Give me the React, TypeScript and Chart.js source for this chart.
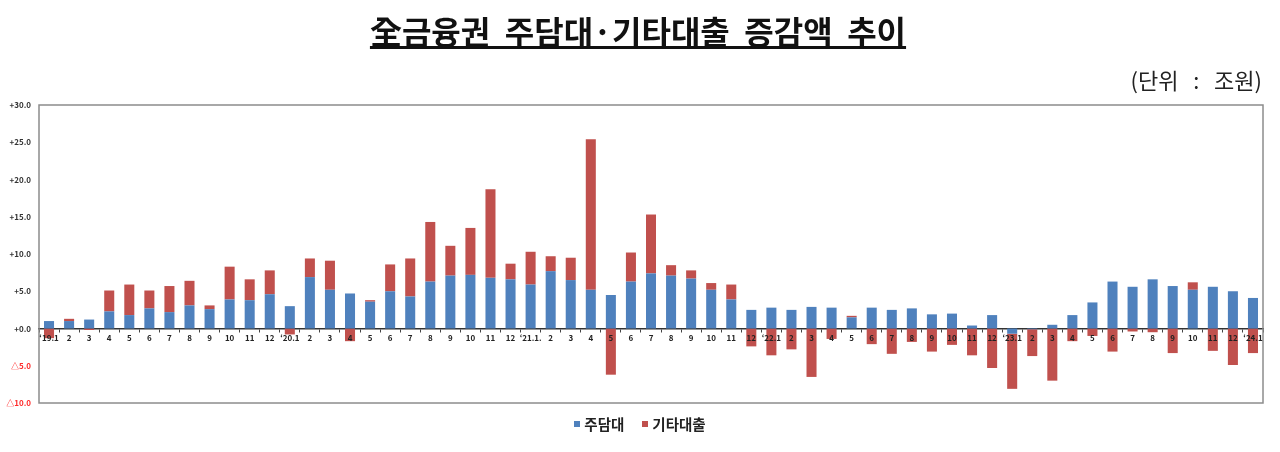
import React, { useEffect, useRef } from 'react';
import { Chart, registerables } from 'chart.js';
Chart.register(...registerables);

const FONT = '"Noto Sans CJK KR", "Noto Sans", sans-serif';

// months from '19.1 to '24.1
const monthLabels: string[] = [
  '‘19.1', '2', '3', '4', '5', '6', '7', '8', '9', '10', '11', '12',
  '‘20.1', '2', '3', '4', '5', '6', '7', '8', '9', '10', '11', '12',
  '‘21.1.', '2', '3', '4', '5', '6', '7', '8', '9', '10', '11', '12',
  '‘22.1', '2', '3', '4', '5', '6', '7', '8', '9', '10', '11', '12',
  '‘23.1', '2', '3', '4', '5', '6', '7', '8', '9', '10', '11', '12',
  '‘24.1',
];

// 주담대 (조원)
const mortgageValues: number[] = [
  1.0, 1.0, 1.2, 2.3, 1.8, 2.7, 2.2, 3.1, 2.6, 3.9, 3.8, 4.6,
  3.0, 6.9, 5.2, 4.7, 3.6, 5.0, 4.3, 6.3, 7.1, 7.2, 6.8, 6.6,
  5.9, 7.7, 6.5, 5.2, 4.5, 6.3, 7.4, 7.1, 6.7, 5.2, 3.9, 2.5,
  2.8, 2.5, 2.9, 2.8, 1.5, 2.8, 2.5, 2.7, 1.9, 2.0, 0.4, 1.8,
  -0.7, -0.1, 0.5, 1.8, 3.5, 6.3, 5.6, 6.6, 5.7, 5.2, 5.6, 5.0,
  4.1,
];

// 기타대출 (조원)
const otherLoanValues: number[] = [
  -1.3, 0.3, -0.2, 2.8, 4.1, 2.4, 3.5, 3.3, 0.5, 4.4, 2.8, 3.2,
  -0.8, 2.5, 3.9, -1.7, 0.2, 3.6, 5.1, 8.0, 4.0, 6.3, 11.9, 2.1,
  4.4, 2.0, 3.0, 20.2, -6.2, 3.9, 7.9, 1.4, 1.1, 0.9, 2.0, -2.4,
  -3.6, -2.8, -6.5, -1.4, 0.2, -2.1, -3.4, -1.8, -3.1, -2.2, -3.6, -5.3,
  -7.4, -3.6, -7.0, -1.7, -1.0, -3.1, -0.4, -0.5, -3.3, 1.0, -3.0, -4.9,
  -3.3,
];

const BLUE = '#4f81bd';
const RED = '#c0504d';

const framePlugin = {
  id: 'frame',
  beforeDatasetsDraw(chart: Chart) {
    const { ctx, chartArea } = chart;
    ctx.save();
    ctx.strokeStyle = '#8c8c8c';
    ctx.lineWidth = 1.5;
    ctx.strokeRect(chartArea.left, chartArea.top, chartArea.right - chartArea.left, chartArea.bottom - chartArea.top);
    ctx.restore();
  },
};

function fmtTick(v: number): string {
  if (v < 0) return '△' + Math.abs(v).toFixed(1);
  return '+' + v.toFixed(1);
}

export default function App(): React.ReactElement {
  const canvasRef = useRef<HTMLCanvasElement | null>(null);
  const chartRef = useRef<Chart | null>(null);

  useEffect(() => {
    if (!canvasRef.current) return;
    const ctx = canvasRef.current.getContext('2d');
    if (!ctx) return;
    if (chartRef.current) chartRef.current.destroy();

    chartRef.current = new Chart(ctx, {
      type: 'bar',
      data: {
        labels: monthLabels,
        datasets: [
          {
            label: '주담대',
            data: mortgageValues,
            backgroundColor: BLUE,
            categoryPercentage: 1,
            barPercentage: 0.5,
          },
          {
            label: '기타대출',
            data: otherLoanValues,
            backgroundColor: RED,
            categoryPercentage: 1,
            barPercentage: 0.5,
          },
        ],
      },
      options: {
        responsive: true,
        maintainAspectRatio: false,
        animation: false,
        layout: { padding: { top: 105, bottom: 49, right: 17, left: 0 } },
        plugins: {
          legend: { display: false },
          tooltip: { enabled: false },
        },
        scales: {
          x: {
            stacked: true,
            position: { y: 0 } as any,
            grid: {
              display: true,
              drawOnChartArea: false,
              tickLength: 3,
              color: '#444',
              offset: true,
            },
            border: { display: true, color: '#333', width: 1.5 },
            ticks: {
              z: 1, // month labels sit on top of the negative bars
              color: '#222',
              font: { family: FONT, size: 8, weight: 'bold' },
              padding: 2,
              maxRotation: 0,
              autoSkip: false,
            },
          },
          y: {
            stacked: true,
            min: -10,
            max: 30,
            grid: { display: false, drawTicks: false },
            border: { display: false },
            ticks: {
              stepSize: 5,
              padding: 8,
              callback: (v: string | number) => fmtTick(Number(v)),
              color: (c: any) => (c.tick && c.tick.value < 0 ? '#ff2a2a' : '#333'),
              font: { family: FONT, size: 8, weight: 'bold' },
            },
            afterFit: (s: any) => {
              s.width = 39;
            },
          },
        },
      },
      plugins: [framePlugin],
    });

    return () => {
      if (chartRef.current) {
        chartRef.current.destroy();
        chartRef.current = null;
      }
    };
  }, []);

  return (
    <div style={{ position: 'absolute', left: 0, top: 0, width: 1280, height: 452, background: '#fff', fontFamily: FONT }}>
      <div style={{ position: 'absolute', inset: 0 }}>
        <canvas ref={canvasRef} />
      </div>
      <div
        style={{
          position: 'absolute', left: 0, width: 1276, top: 8, textAlign: 'center',
          fontSize: 32, fontWeight: 'bold', textDecoration: 'underline', color: '#111', whiteSpace: 'pre', lineHeight: '44px',
        }}
      >
        {'全금융권  주담대·기타대출  증감액  추이'}
      </div>
      <div style={{ position: 'absolute', right: 18, top: 64, fontSize: 22, color: '#222', whiteSpace: 'pre', lineHeight: '30px' }}>
        {'(단위   :   조원)'}
      </div>
      <div
        style={{
          position: 'absolute', left: 0, width: 1280, top: 412, display: 'flex', justifyContent: 'center', alignItems: 'center',
          fontSize: 14.5, fontWeight: 'bold', color: '#222', lineHeight: '24px',
        }}
      >
        <span style={{ display: 'inline-block', width: 6, height: 6, background: BLUE, marginRight: 4 }} />
        <span style={{ marginRight: 18 }}>주담대</span>
        <span style={{ display: 'inline-block', width: 6, height: 6, background: RED, marginRight: 4 }} />
        <span>기타대출</span>
      </div>
    </div>
  );
}
